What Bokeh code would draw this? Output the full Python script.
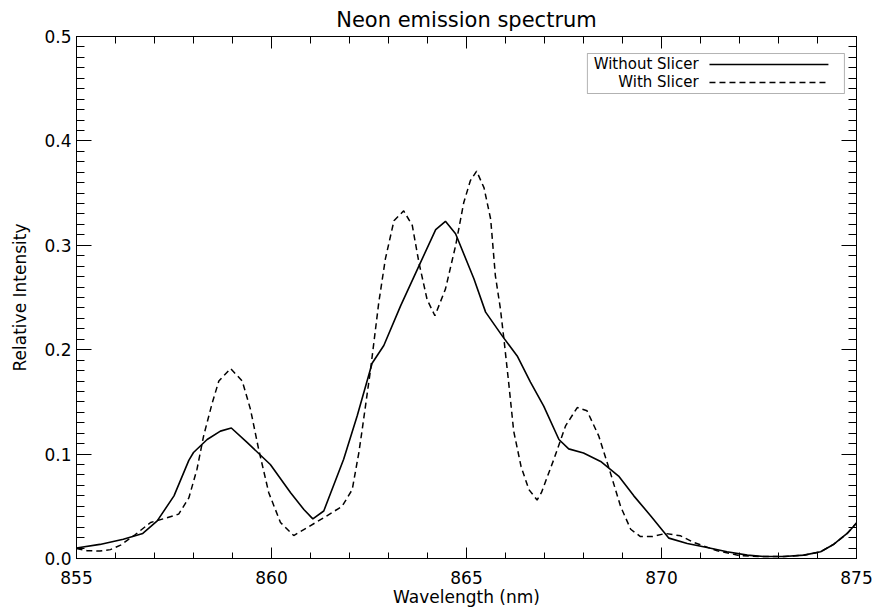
from bokeh.plotting import figure
from bokeh.models import (Range1d, LinearAxis, SingleIntervalTicker, BoxAnnotation, Label, Arrow,
                          CustomJSTickFormatter)
from bokeh.embed import file_html
from bokeh.resources import INLINE

# ---- data ----
wl_without = [855.0, 855.6, 856.2, 856.7, 857.07, 857.5, 857.88, 858.0, 858.35, 858.69,
              858.97, 859.38, 859.97, 860.49, 860.83, 861.06, 861.34, 861.85, 862.2, 862.58,
              862.88, 863.31, 863.74, 864.21, 864.46, 864.72, 865.19, 865.49, 865.92, 866.30,
              866.64, 866.98, 867.37, 867.62, 868.0, 868.44, 868.9, 869.29, 869.72, 870.19,
              870.66, 871.17, 871.68, 872.2, 872.62, 873.14, 873.65, 874.08, 874.42, 874.76, 875.0]
int_without = [0.010, 0.0135, 0.0185, 0.024, 0.036, 0.060, 0.094, 0.1015, 0.114, 0.122,
               0.125, 0.111, 0.090, 0.063, 0.047, 0.038, 0.0455, 0.095, 0.137, 0.187,
               0.204, 0.242, 0.277, 0.315, 0.323, 0.311, 0.268, 0.236, 0.213, 0.194,
               0.169, 0.146, 0.114, 0.105, 0.101, 0.093, 0.079, 0.060, 0.041, 0.0195,
               0.0144, 0.0105, 0.0064, 0.0032, 0.0019, 0.0019, 0.0032, 0.0064, 0.0137, 0.024, 0.034]

wl_with = [855.0, 855.27, 855.6, 855.87, 856.13, 856.51, 856.9, 857.32, 857.62, 857.88,
           858.09, 858.26, 858.48, 858.65, 858.95, 859.25, 859.46, 859.67, 859.93, 860.23,
           860.57, 860.92, 861.34, 861.81, 862.07, 862.24, 862.32, 862.54, 862.75, 862.92,
           863.14, 863.39, 863.61, 863.78, 863.99, 864.19, 864.46, 864.72, 864.93, 865.1,
           865.26, 865.45, 865.62, 865.74, 865.87, 865.96, 866.08, 866.21, 866.4, 866.6,
           866.81, 866.92, 867.24, 867.54, 867.84, 868.09, 868.39, 868.69, 868.95, 869.21,
           869.46, 869.76, 870.1, 870.49, 870.83, 871.43, 872.03, 872.6, 873.14, 873.65,
           874.08, 874.42, 874.76, 875.0]
int_with = [0.0095, 0.0075, 0.0072, 0.0085, 0.0128, 0.023, 0.0345, 0.039, 0.0425, 0.058,
            0.0856, 0.1175, 0.149, 0.170, 0.182, 0.170, 0.143, 0.1047, 0.063, 0.0345,
            0.022, 0.0297, 0.039, 0.050, 0.066, 0.1015, 0.122, 0.181, 0.245, 0.287,
            0.3235, 0.333, 0.319, 0.2835, 0.248, 0.2325, 0.258, 0.2995, 0.341, 0.362,
            0.371, 0.355, 0.325, 0.271, 0.239, 0.210, 0.169, 0.122, 0.088, 0.066,
            0.056, 0.063, 0.095, 0.127, 0.1446, 0.1415, 0.1175, 0.082, 0.050, 0.028,
            0.021, 0.021, 0.024, 0.0217, 0.0153, 0.0074, 0.0026, 0.0019, 0.0019, 0.0032,
            0.0064, 0.0137, 0.024, 0.034]

series_labels = ["Without Slicer", "With Slicer"]
x_ticks_interval = 5
y_ticks_interval = 0.1

FONT = "DejaVu Sans"

p = figure(frame_width=780, frame_height=522,
           min_border_left=76, min_border_right=20, min_border_top=34, min_border_bottom=54,
           x_range=Range1d(855, 875), y_range=Range1d(0, 0.5),
           output_backend="svg", toolbar_location=None,
           title="Neon emission spectrum")
p.background_fill_color = "white"
p.border_fill_color = "white"
p.outline_line_color = "black"
p.outline_line_width = 1
p.xgrid.visible = False
p.ygrid.visible = False

p.title.align = "center"
p.title.text_font = FONT
p.title.text_font_size = "21px"
p.title.text_font_style = "normal"
p.title.text_color = "black"

def style_axis(ax, major_len, minor_len, labels=True):
    ax.major_tick_in = major_len
    ax.major_tick_out = 0
    ax.minor_tick_in = minor_len
    ax.minor_tick_out = 0
    ax.axis_line_color = "black"
    ax.major_tick_line_color = "black"
    ax.minor_tick_line_color = "black"
    if labels:
        ax.major_label_text_font = FONT
        ax.major_label_text_font_size = "17px"
        ax.major_label_text_color = "black"
    else:
        ax.formatter = CustomJSTickFormatter(code="return '';")
        ax.major_label_standoff = 0

xt = SingleIntervalTicker(interval=x_ticks_interval, num_minor_ticks=5)
yt = SingleIntervalTicker(interval=y_ticks_interval, num_minor_ticks=10)

p.xaxis.ticker = xt
p.yaxis.ticker = yt
style_axis(p.xaxis[0], 11, 6)
style_axis(p.yaxis[0], 15, 8)
p.xaxis.major_label_standoff = 12
p.yaxis.major_label_standoff = 5
p.yaxis.formatter = CustomJSTickFormatter(code="return tick.toFixed(1);")

p.xaxis.axis_label = "Wavelength (nm)"
p.yaxis.axis_label = "Relative Intensity"
for ax in (p.xaxis[0], p.yaxis[0]):
    ax.axis_label_text_font = FONT
    ax.axis_label_text_font_size = "17px"
    ax.axis_label_text_font_style = "normal"
    ax.axis_label_text_color = "black"
p.xaxis.axis_label_standoff = 0
p.yaxis.axis_label_standoff = 11

top_ax = LinearAxis(ticker=SingleIntervalTicker(interval=x_ticks_interval, num_minor_ticks=5))
style_axis(top_ax, 12, 7, labels=False)
p.add_layout(top_ax, "above")
right_ax = LinearAxis(ticker=SingleIntervalTicker(interval=y_ticks_interval, num_minor_ticks=10))
style_axis(right_ax, 15, 8, labels=False)
p.add_layout(right_ax, "right")

p.line(wl_without, int_without, line_color="black", line_width=1.6)
p.line(wl_with, int_with, line_color="black", line_width=1.5, line_dash="6 4")

# legend (label on left, sample line on right, as in the reference)
p.add_layout(BoxAnnotation(left=868.10, right=874.69, bottom=0.4454, top=0.4837,
                           fill_color="white", fill_alpha=1.0,
                           line_color="black", line_width=1, level="overlay"))
ly = [0.4732, 0.4560]
dashes = ["solid", "6 4"]
for lab, yy, dsh in zip(series_labels, ly, dashes):
    p.add_layout(Label(x=870.95, y=yy, text=lab, text_align="right", text_baseline="middle",
                       text_font=FONT, text_font_size="15px", text_color="black", level="overlay"))
    p.add_layout(Arrow(x_start=871.23, y_start=yy, x_end=874.28, y_end=yy, end=None,
                       line_color="black", line_width=1.5, line_dash=dsh, level="overlay"))

open("out.html", "w").write(file_html(p, INLINE))
